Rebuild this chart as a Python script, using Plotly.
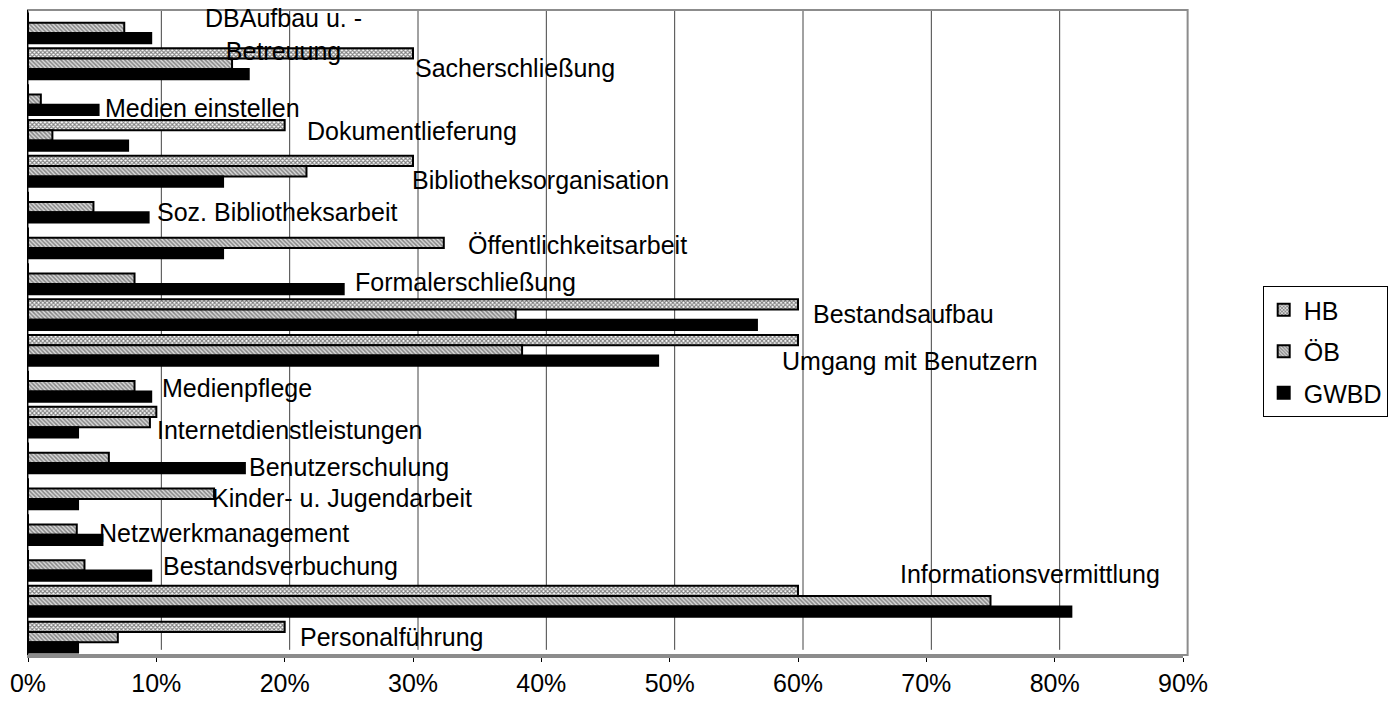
import plotly.graph_objects as go

# ---- data (top-to-bottom order as drawn) ----
categories = [
    "DBAufbau u. -<br>Betreuung", "Sacherschließung", "Medien einstellen", "Dokumentlieferung",
    "Bibliotheksorganisation", "Soz. Bibliotheksarbeit", "Öffentlichkeitsarbeit",
    "Formalerschließung", "Bestandsaufbau", "Umgang mit Benutzern", "Medienpflege",
    "Internetdienstleistungen", "Benutzerschulung", "Kinder- u. Jugendarbeit",
    "Netzwerkmanagement", "Bestandsverbuchung", "Informationsvermittlung", "Personalführung",
]
hb   = [0, 30, 0, 20, 30, 0, 0, 0, 60, 60, 0, 10, 0, 0, 0, 0, 60, 20]
oeb  = [7.5, 15.9, 1.0, 1.9, 21.7, 5.1, 32.4, 8.3, 38.0, 38.5, 8.3, 9.5, 6.3, 14.5, 3.8, 4.4, 75.0, 7.0]
gwbd = [9.6, 17.2, 5.5, 7.8, 15.2, 9.4, 15.2, 24.6, 56.8, 49.1, 9.6, 3.9, 16.9, 3.9, 5.8, 9.6, 81.3, 3.9]
series_names = ["HB", "ÖB", "GWBD"]
tick_vals = [0, 10, 20, 30, 40, 50, 60, 70, 80, 90]
tick_text = ["0%", "10%", "20%", "30%", "40%", "50%", "60%", "70%", "80%", "90%"]

# label placement (x in %, vertical shift in px, anchor)
label_pos = [
    (19.9, -7, "center"), (30.0, -4, "left"), (5.85, -8, "left"), (21.6, 4, "left"),
    (29.8, -9, "left"), (9.9, -5, "left"), (34.1, -2, "left"), (25.3, -3, "left"),
    (61.0, 1, "left"), (58.6, -11, "left"), (10.3, -2, "left"), (9.9, -8, "left"),
    (17.1, -9, "left"), (14.2, -4, "left"), (5.4, -3, "left"), (10.4, -1, "left"),
    (67.8, 27, "left"), (21.0, 0, "left"),
]

FONT = "Liberation Sans, Arial, sans-serif"

styles = [
    dict(color="white", pattern=dict(shape="x", fgcolor="black", bgcolor="white", size=3, solidity=0.6)),
    dict(color="#cccccc", pattern=dict(shape="\\", fgcolor="#333333", bgcolor="#d8d8d8", size=3, solidity=0.5)),
    dict(color="black"),
]

fig = go.Figure()
for name, vals, st in zip(series_names, [hb, oeb, gwbd], styles):
    fig.add_trace(go.Bar(
        name=name, y=categories, x=vals, orientation="h",
        marker=dict(line=dict(color="black", width=2), **st),
        legendgroup=name,
    ))

for cat, (xv, ys, anc) in zip(categories, label_pos):
    fig.add_annotation(x=xv, y=cat, text=cat, showarrow=False, xanchor=anc,
                       yshift=ys, font=dict(size=25, color="black", family=FONT),
                       align="center")

# back-wall gridlines (offset a few pixels to the right, like the 3D wall)
for v in tick_vals[1:-1]:
    fig.add_shape(type="line", xref="x", yref="paper", xsizemode="pixel", xanchor=v,
                  x0=5, x1=5, y0=0.008, y1=1, line=dict(color="#444444", width=1), layer="below")

# plot frame (gray walls)
fig.add_shape(type="rect", xref="paper", yref="paper", x0=0, y0=0, x1=1.004, y1=1,
              line=dict(color="#8c8c8c", width=2), layer="below")

fig.update_layout(
    width=1388, height=702, autosize=False,
    margin=dict(l=28, r=205, t=10, b=47, autoexpand=False),
    paper_bgcolor="white", plot_bgcolor="white",
    barmode="group", bargap=0.14, bargroupgap=0,
    font=dict(family=FONT, size=25, color="black"),
    legend=dict(x=1.069, xanchor="left", y=0.572, yanchor="top",
                bordercolor="black", borderwidth=1, bgcolor="white",
                font=dict(size=25, family=FONT), tracegroupgap=6,
                itemwidth=30),
    xaxis=dict(range=[0, 90], tickvals=tick_vals, ticktext=tick_text,
               showgrid=False,
               ticks="outside", ticklen=4, tickcolor="black",
               showline=True, linecolor="#8c8c8c", linewidth=3,
               zeroline=False, tickfont=dict(size=25, family=FONT),
               automargin=False),
    yaxis=dict(range=[len(categories) - 0.5, -0.5], showticklabels=False, showgrid=False,
               showline=True, linecolor="black", linewidth=1, ticks="",
               automargin=False),
)

fig.write_html("out.html", config={"displayModeBar": False},
               post_script="document.body.style.margin='0';document.body.style.overflow='hidden';")
